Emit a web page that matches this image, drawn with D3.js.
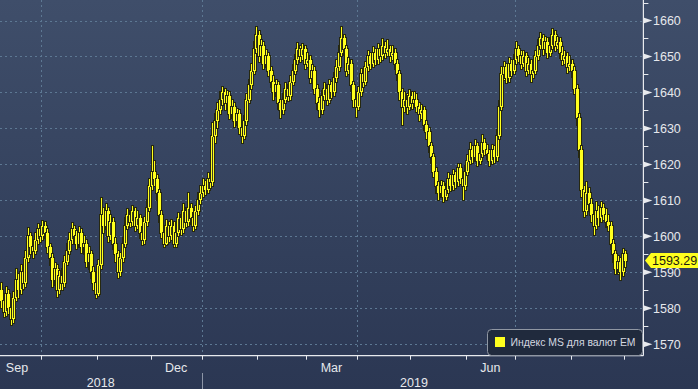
<!DOCTYPE html>
<html><head><meta charset="utf-8">
<script src="https://cdn.jsdelivr.net/npm/d3@7"></script>
<style>html,body{margin:0;padding:0;background:#2c3854;overflow:hidden}</style>
</head><body>
<svg id="c" width="698" height="389"></svg>
<script>
// ---------- data ----------
const firstDate = "2018-09-06";
const firstOpen = 1585;
const closes = [
1582,1579,1584,1580,1577,1583,1588,1585,1590,1587,
1594,1600,1597,1596,1599,1602,1600,1603,1601,1597,
1594,1588,1591,1585,1589,1587,1593,1596,1599,1602,
1600,1598,1601,1597,1598,1593,1595,1590,1587,1584,
1592,1606,1603,1607,1600,1604,1598,1595,1590,1594,
1598,1603,1606,1604,1607,1603,1605,1601,1599,1604,
1608,1614,1618,1616,1612,1606,1601,1598,1603,1600,
1603,1598,1601,1605,1602,1607,1604,1608,1605,1603,
1607,1610,1612,1614,1613,1616,1615,1628,1632,1635,
1638,1640,1637,1639,1634,1636,1632,1634,1630,1628,
1632,1638,1642,1646,1652,1656,1650,1653,1648,1650,
1646,1643,1640,1642,1637,1635,1638,1641,1639,1643,
1646,1649,1652,1650,1652,1648,1649,1644,1646,1641,
1637,1635,1639,1641,1638,1642,1640,1644,1647,1651,
1655,1652,1646,1648,1642,1638,1636,1640,1645,1643,
1647,1650,1648,1651,1649,1652,1650,1653,1651,1652,
1650,1651,1648,1645,1640,1636,1638,1636,1639,1637,
1638,1636,1634,1635,1631,1629,1625,1622,1618,1614,
1612,1614,1611,1613,1616,1614,1617,1615,1619,1616,
1614,1618,1621,1624,1622,1625,1621,1623,1626,1624,
1623,1621,1624,1622,1628,1636,1645,1647,1644,1648,
1646,1649,1652,1650,1648,1650,1646,1648,1645,1646,
1650,1653,1655,1652,1654,1651,1653,1656,1653,1654,
1651,1649,1650,1647,1648,1646,1641,1633,1624,1613,
1607,1612,1609,1606,1603,1607,1605,1608,1606,1604,
1603,1598,1595,1591,1593,1590,1595,1593.29];
const highs = [
1587,1583.5,1586,1585,1581,1584.5,1591,1589.5,1592,1591,
1596,1602.4,1601,1599,1601,1603.5,1603,1604.2,1604,1602,
1598,1595,1592.5,1592,1590.5,1591,1594.5,1598,1601,1603.7,
1603,1601.5,1602.5,1602,1600,1599,1597,1596,1591.5,1588,
1593.5,1610.7,1608,1609,1608,1606,1605,1599.5,1596,1595.5,
1599.5,1605,1607.5,1607,1608.5,1608,1607,1606,1602.5,1605.5,
1610,1616,1625,1621,1617,1613,1607,1602,1604.5,1604,
1604.5,1604,1602.5,1606.5,1606,1609,1608,1612,1609,1606.5,
1608.5,1612,1614,1616,1615.5,1617.6,1617,1631.5,1634,1637,
1640,1641.5,1641,1640.5,1640,1638,1637,1635.5,1635,1631,
1633.5,1639.5,1643.5,1648,1654,1658.2,1657,1654.5,1654,1651.8,
1651,1647,1644.5,1643.5,1643,1638,1639.5,1642.5,1642,1644.5,
1647.5,1650.5,1653.8,1653,1653.5,1653,1651,1650,1647.5,1647,
1642,1638.5,1640.5,1642.5,1642,1643.5,1643,1645.5,1649,1653,
1658.2,1656,1653,1649.5,1649,1643,1639,1641.5,1646.5,1646,
1648.5,1651.5,1651,1652.5,1652,1653.5,1653,1654.9,1654,1654.5,
1653,1653,1652,1649,1646,1641,1640,1639.5,1640.7,1640,
1640,1639.5,1637,1636.5,1636,1632,1630,1626,1623,1619,
1615,1615.5,1615,1614.5,1617.5,1617,1618.5,1618,1620,1620,
1617,1619.5,1622.5,1626,1625,1626.8,1626,1624.5,1628.2,1627,
1625.5,1624,1625.5,1625,1629.5,1637.5,1647,1648.5,1648,1649.5,
1649,1650.5,1654,1653,1651.5,1651.5,1651,1649.5,1649,1648,
1651.5,1654.5,1656.5,1656,1655.5,1655,1655,1657.6,1657,1655.5,
1655,1652.5,1651.5,1651,1650,1649,1647,1642,1634,1625,
1614,1615,1613.5,1610.5,1607,1609.5,1608.5,1609.5,1609,1607.5,
1606,1604,1599,1596,1594.5,1594,1596.5,1596];
const lows = [
1580,1577.5,1578,1578.5,1575.4,1576,1582,1583,1584,1585.5,
1586,1593,1595,1594,1595,1598,1598.5,1599,1599.5,1595.5,
1592,1586,1586.5,1583.2,1584,1585,1586,1592,1595,1598,
1598.5,1596.5,1597,1595.5,1595,1591.5,1591,1588.5,1585,1583,
1583.5,1591,1601,1602,1598.5,1599,1596.5,1593,1588.5,1589,
1593,1597,1602,1602.5,1603,1601.5,1602,1599.5,1597.5,1598,
1603,1607,1613,1614,1610,1604,1599.5,1597,1597.5,1598.5,
1599,1597,1597,1600,1600.5,1601,1602.5,1603,1603.5,1601.5,
1602,1606,1609,1611,1611.5,1612,1613.5,1614,1626,1630,
1634,1636.5,1635,1636,1632.5,1633,1630.5,1631,1628.5,1626,
1627,1631,1637,1641,1645,1651,1648.5,1649,1646.5,1647,
1644.5,1641.5,1638,1639,1635.5,1633,1634,1637,1637.5,1638,
1642,1645,1648,1648.5,1649,1646.5,1647,1642.5,1643,1639.5,
1635.5,1633.2,1634,1638,1636.5,1637,1638.5,1639,1643,1646,
1650,1650.5,1644.5,1645,1640.5,1636,1633.2,1635,1639,1641.5,
1642,1646,1646.5,1647,1647.5,1648,1648.5,1649,1649.5,1650,
1648.5,1649,1646.5,1643.5,1638,1631,1634.5,1634,1635,1635.5,
1636,1634.5,1632,1632.5,1629.5,1627,1623.5,1620.5,1616.5,1612,
1610,1611,1609.6,1610,1612,1612.5,1613,1613.5,1614,1614.5,
1610,1613,1617,1620,1620.5,1621,1619.5,1620,1622,1622.5,
1621.5,1619.5,1620,1620.5,1621,1627,1635,1643.5,1642.5,1643,
1644.5,1645,1648,1648.5,1646.5,1647,1644.5,1645,1643,1644,
1645,1649,1652,1650.5,1651,1649.5,1650,1652,1651.5,1652,
1649.5,1647.5,1648,1645.5,1646,1644.3,1639.5,1631,1622,1611,
1605.5,1606,1607,1604,1600.5,1602,1603,1604,1604.5,1602.5,
1601.5,1596.5,1593,1589.5,1589.5,1588,1589,1591.5];
const yTicks = [1570,1580,1590,1600,1610,1620,1630,1640,1650,1660];
const yMinorTicks = [1575,1585,1595,1605,1615,1625,1635,1645,1655,1665];
const monthTickDates = ["2018-10-01","2018-11-01","2018-12-01","2019-01-01","2019-02-01","2019-03-01","2019-04-01","2019-05-01","2019-06-01","2019-07-01","2019-08-01","2019-09-01"];
const gridDates = ["2018-10-01","2019-01-01","2019-04-01","2019-07-01"];
const monthLabels = ["Sep","Dec","Mar","Jun"];
const monthLabelStarts = ["2018-09-01","2018-12-01","2019-03-01","2019-06-01"];
const yearLabels = ["2018","2019"];
const yearStarts = ["2018-07-01","2019-01-01"];
const yearEnds = ["2019-01-01","2019-09-03"];
const legendLabel = "Индекс MS для валют EM";
const lastLabel = "1593.29";

// ---------- layout ----------
const W = 698, H = 389;
const plotL = 0, plotR = 643.4, plotT = 0, axisY = 355.7;
const svg = d3.select("#c");
const parse = d3.timeParse("%Y-%m-%d");
const base = parse("2018-09-03");
function isWd(d){const g=d.getDay();return g!==0&&g!==6;}
function wd(d){ // weekday slots from base (fractional for weekend = next weekday)
  return d3.timeDay.range(base, d).filter(isWd).length;
}
// bar dates (weekdays)
const start = parse(firstDate);
const barDates = d3.timeDay.range(start, d3.timeDay.offset(start, 400)).filter(isWd).slice(0, closes.length);
const slot0 = wd(start);
const x = d3.scaleLinear().domain([slot0, slot0 + 265]).range([plotL, plotR]);
const y = d3.scaleLinear().domain([1570, 1660]).range([344.3, 20.5]);

// background gradient
const defs = svg.append("defs");
const g1 = defs.append("linearGradient").attr("id","bg").attr("x1",0).attr("y1",0).attr("x2",0).attr("y2",1);
g1.append("stop").attr("offset","0%").attr("stop-color","#3f4e6a");
g1.append("stop").attr("offset","100%").attr("stop-color","#2b3753");
svg.append("rect").attr("width",W).attr("height",H).attr("fill","url(#bg)");
defs.append("clipPath").attr("id","clip").append("rect").attr("x",plotL).attr("y",plotT).attr("width",plotR-plotL).attr("height",axisY-plotT);

// grid
const grid = svg.append("g").attr("stroke","#5d7893").attr("stroke-width",1).attr("stroke-dasharray","2,3");
grid.selectAll("line.h").data(yTicks).join("line").attr("class","h")
  .attr("x1",plotL).attr("x2",plotR).attr("y1",d=>Math.round(y(d))+0.5).attr("y2",d=>Math.round(y(d))+0.5);
grid.selectAll("line.v").data(gridDates).join("line").attr("class","v")
  .attr("x1",d=>Math.round(x(wd(parse(d))))+0.5).attr("x2",d=>Math.round(x(wd(parse(d))))+0.5)
  .attr("y1",plotT).attr("y2",axisY);

// candles
const cg = svg.append("g").attr("clip-path","url(#clip)").attr("shape-rendering","crispEdges");
closes.forEach((c,i)=>{
  const o = i===0 ? firstOpen : closes[i-1];
  const cx = Math.round(x(wd(barDates[i]) + 0.5));
  const yt = Math.round(y(Math.max(o,c))), yb = Math.round(y(Math.min(o,c)));
  const yh = Math.round(y(highs[i])), yl = Math.round(y(lows[i]));
  const bh = Math.max(yb-yt,1);
  const g = cg.append("g");
  g.append("rect").attr("x",cx-1).attr("y",yh-1).attr("width",3).attr("height",yl-yh+2).attr("fill","#26280f");
  g.append("rect").attr("x",cx-2).attr("y",yt-1).attr("width",5).attr("height",bh+2).attr("fill","#26280f");
  g.append("rect").attr("x",cx).attr("y",yh).attr("width",1).attr("height",yl-yh).attr("fill","#ffff1e");
  const up = c >= o;
  g.append("rect").attr("x",cx-1).attr("y",yt).attr("width",3).attr("height",bh).attr("fill","#ffff1e");
  if(up && bh>2){
    g.append("rect").attr("x",cx).attr("y",yt+1).attr("width",1).attr("height",bh-2).attr("fill","#3a3d22");
  }
});

// x axis
svg.append("line").attr("x1",plotL).attr("x2",plotR).attr("y1",axisY).attr("y2",axisY).attr("stroke","#e8eaee").attr("stroke-width",1.2);
svg.selectAll("line.xt").data(monthTickDates).join("line").attr("class","xt")
  .attr("x1",d=>Math.round(x(wd(parse(d))))+0.5).attr("x2",d=>Math.round(x(wd(parse(d))))+0.5)
  .attr("y1",axisY).attr("y2",axisY+4).attr("stroke","#e8eaee");
const nextMonth = d=>d3.timeMonth.offset(parse(d),1);
svg.selectAll("text.ml").data(monthLabels).join("text").attr("class","ml")
  .attr("x",(d,i)=>(x(wd(parse(monthLabelStarts[i])))+x(wd(nextMonth(monthLabelStarts[i]))))/2)
  .attr("y",371.5).attr("text-anchor","middle").attr("fill","#e6e8ec")
  .attr("font-family","Liberation Sans, Arial, sans-serif").attr("font-size","12.5px").text(d=>d);
svg.selectAll("text.yl").data(yearLabels).join("text").attr("class","yl")
  .attr("x",(d,i)=>(Math.max(plotL,x(wd(parse(yearStarts[i]))))+x(wd(parse(yearEnds[i]))))/2)
  .attr("y",386.5).attr("text-anchor","middle").attr("fill","#e6e8ec")
  .attr("font-family","Liberation Sans, Arial, sans-serif").attr("font-size","12.5px").text(d=>d);
svg.append("line").attr("x1",Math.round(x(wd(parse(yearStarts[1]))))+0.5).attr("x2",Math.round(x(wd(parse(yearStarts[1]))))+0.5)
  .attr("y1",373).attr("y2",H).attr("stroke","#8c95a6");

// y axis (right)
svg.append("line").attr("x1",plotR).attr("x2",plotR).attr("y1",0).attr("y2",axisY).attr("stroke","#e8eaee").attr("stroke-width",1.2);
svg.selectAll("line.ym").data(yMinorTicks).join("line").attr("class","ym")
  .attr("x1",plotR).attr("x2",plotR+5).attr("y1",d=>Math.round(y(d))+0.5).attr("y2",d=>Math.round(y(d))+0.5).attr("stroke","#e8eaee");
svg.selectAll("path.yt").data(yTicks).join("path").attr("class","yt")
  .attr("d",d=>{const yy=y(d);return `M${plotR},${yy-3}L${plotR+9},${yy}L${plotR},${yy+3}Z`;}).attr("fill","#e8eaee");
svg.selectAll("text.ytl").data(yTicks).join("text").attr("class","ytl")
  .attr("x",653).attr("y",d=>y(d)+4.5).attr("fill","#e6e8ec")
  .attr("font-family","Liberation Sans, Arial, sans-serif").attr("font-size","12.5px").text(d=>d);

// last price label
const ly = y(closes[closes.length-1]);
svg.append("path").attr("d",`M645,${ly}L651,${ly-7.5}L698,${ly-7.5}L698,${ly+7.5}L651,${ly+7.5}Z`).attr("fill","#ffff1e");
svg.append("text").attr("x",652).attr("y",ly+4.5).attr("fill","#1a1a10")
  .attr("font-family","Liberation Sans, Arial, sans-serif").attr("font-size","12.5px").text(lastLabel);

// legend
const lg = svg.append("g");
lg.append("rect").attr("x",487.5).attr("y",329.5).attr("width",155).attr("height",26).attr("rx",4)
  .attr("fill","#202a3d").attr("stroke","#9097a3");
lg.append("rect").attr("x",495).attr("y",337).attr("width",10).attr("height",10).attr("fill","#ffff1e");
lg.append("text").attr("x",510.5).attr("y",346).attr("fill","#d4d8e0")
  .attr("font-family","Liberation Sans, Arial, sans-serif").attr("font-size","11px")
  .attr("textLength",125).attr("lengthAdjust","spacingAndGlyphs").text(legendLabel);
</script>
</body></html>
